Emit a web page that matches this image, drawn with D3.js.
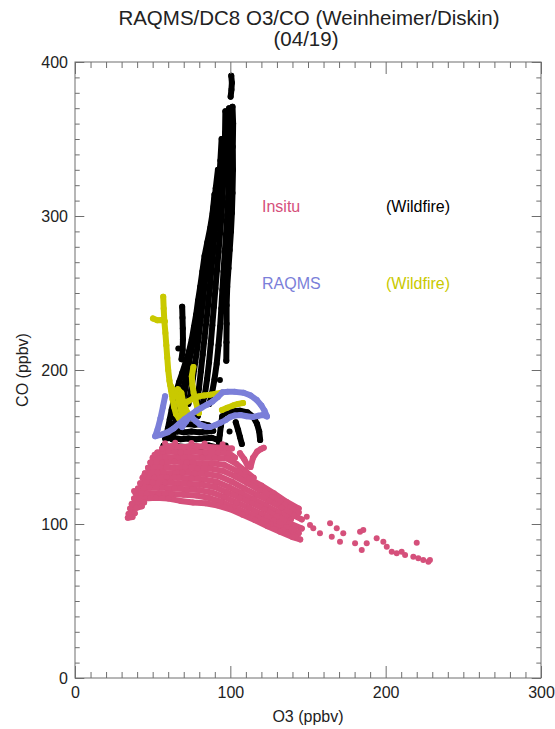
<!DOCTYPE html>
<html>
<head>
<meta charset="utf-8">
<script src="https://cdn.jsdelivr.net/npm/d3@7/dist/d3.min.js"></script>
<style>
  html, body { margin: 0; padding: 0; background: #fff; }
  svg { display: block; font-family: "Liberation Sans", Arial, Helvetica, sans-serif; }
</style>
</head>
<body>
<svg id="chart" width="555" height="729"></svg>
<script>
// ---- Titles and axis labels ----
const titleLines = ["RAQMS/DC8 O3/CO (Weinheimer/Diskin)", "(04/19)"];
const xLabel = "O3 (ppbv)";
const yLabel = "CO (ppbv)";
const xDomain = [0, 300];
const yDomain = [0, 400];
const xMajorTicks = [0, 100, 200, 300];
const yMajorTicks = [0, 100, 200, 300, 400];
const minorStep = 10;

// ---- Legend entries ----
const legendNames = ["Insitu", "RAQMS"];
const legendTags = ["(Wildfire)", "(Wildfire)"];

// ---- In-situ samples outside wildfire plumes: flight segments [O3, CO] ----
const insituTracks = [
  [[56,149],[62,150.5],[70,150],[78,150.5],[86,150],[94,149.5],[101,149]],
  [[53,146.5],[60,147],[68,146.5],[76,147],[84,146.5],[92,146.5],[99,146],[103,143]],
  [[50,143],[58,143.5],[66,143],[74,143.5],[82,143],[90,143],[98,142.5],[104,139],[110,134],[115,130]],
  [[48.5,140],[56,140],[64,140.5],[72,140],[80,139.5],[88,139.5],[96,138.5],[104,134.5],[112,129.5],[120,125],[128,120],[136,114.5],[144,110]],
  [[47,136.5],[55,137],[63,136.5],[71,137],[79,136],[87,136],[95,134.5],[103,131],[111,126.5],[119,122],[127,117.5],[135,112.5],[144,107.5]],
  [[45,133],[53,133.5],[61,133],[69,133.5],[77,133],[85,132.5],[93,131],[101,127.5],[109,123],[117,119],[125,115],[133,110.5],[141,105.5],[146,103]],
  [[43.5,130],[51,130],[59,130.5],[67,130],[75,129.5],[83,129],[91,127.5],[99,124],[107,120],[115,116],[123,112],[131,107.5],[139,103]],
  [[42,126.5],[50,127],[58,127],[66,126.5],[74,126],[82,125.5],[90,124],[98,120.5],[106,117],[114,113.5],[122,109.5],[130,105],[138,100.5],[146,97]],
  [[40.5,123],[48,123.5],[56,123.5],[64,123],[72,122.5],[80,122],[88,120.5],[96,117.5],[104,114],[112,110.5],[120,106.5],[128,102.5],[136,98],[144,94]],
  [[39,120],[46,120],[54,120],[62,119.5],[70,119],[78,118.5],[86,117],[94,114.5],[102,111],[110,107.5],[118,104],[126,100],[134,96],[142,92]],
  [[38,116.5],[45,116.5],[52,117],[60,116.5],[68,115],[76,114],[84,113.5],[92,112],[100,109.5],[108,106],[116,102.5],[124,98.5],[132,95],[140,91.5],[145,90]],
  [[36.5,113],[40.5,113],[44.5,114]],
  [[35.5,110],[39.5,110.5],[43,111.5]],
  [[34.5,106.5],[38.5,107]],
  [[34,104],[37,104.5]],
  [[106.2,146],[109,142],[111.4,137.5],[113,137],[114.6,143],[117.2,147],[119.5,148.5],[121.5,149.5]]
];
const insituScatter = [
  [58,152.5],[64.5,152.8],[75,152.6],[83.5,152.3],[95,151.8],[51.2,145],[44.5,131.5],[38,121.5],
  [149.2,104.7],[151.3,99.4],[153.4,97.2],[157.7,94.0],[164.2,100.5],[165.3,91.8],
  [168.5,97.2],[170.6,88.5],[172.7,94.0],[180.3,87.5],[183.5,95.0],[184.6,83.1],
  [185.6,96.1],[187.8,87.5],[194.2,90.7],[198.5,88.5],[200.7,85.3],[203.9,82.0],
  [207.1,81.0],[210.3,82.0],[212.5,79.9],[217.8,78.8],[220.0,87.9],[221.0,77.7],
  [224.2,76.6],[227.5,75.5],[228.5,76.6]
];

// ---- In-situ samples inside wildfire plumes: flight segments [O3, CO] ----
const wildfireTracks = [
  // top of the plume
  [[100.6,391],[101,386.5],[100.7,382],[100.2,377.5]],
  // main plume column, right to left
  [[101.4,371],[101.8,360],[101.6,345],[101.7,330],[101.4,315],[101,302],[100.4,290],[99.6,278],[98.8,266],[98,254],[97.6,242],[97.6,230],[97.5,218],[97.4,206]],
  [[99.2,370],[99.4,356],[99.2,340],[99,326],[98.6,312],[98,300],[97.2,288],[96.4,276],[95.6,264],[94.9,252],[94.2,240],[93.4,228],[92.4,216],[91.2,204],[89.8,194],[88.2,185],[86.5,178]],
  [[96.8,368],[96.6,354],[96.2,340],[95.6,326],[95,313],[94.4,301],[93.4,289],[92.4,277],[91.4,265],[90.4,253],[89.4,241],[88.4,229],[87.4,217],[86.3,205],[85,194],[83.6,184],[81.8,177]],
  [[94.4,350],[93.6,336],[92.8,322],[91.8,310],[90.8,298],[89.8,287],[88.8,276],[87.8,265],[86.8,254],[85.8,243],[84.6,232],[83.4,221],[82.2,210],[81,199],[79.8,188],[78.6,179]],
  [[92,330],[90.6,318],[89.3,306],[88,295],[86.8,285],[85.6,275],[84.5,265],[83.4,255],[82.3,245],[81.2,235],[80,225],[78.8,215],[77.4,205],[76,195],[74.6,186],[73,178]],
  [[89.8,314],[88.6,302],[87,292],[85.2,283],[83.4,274],[82,264],[80.6,254],[79.2,245],[78,236],[76.6,228],[75.2,220],[73.4,212],[71.2,205],[69,198],[67,192],[65.2,186],[63.6,180],[62.2,174],[61,168],[59.8,162],[58.6,156]],
  [[79.4,240],[77.8,230],[76.3,221],[74.8,212],[73.2,204],[71.6,196],[70,189],[68.4,182],[66.8,175],[65.2,168],[63.8,161],[62.6,155]],
  [[72.5,196],[71,188],[69.8,181],[68.4,174],[67,167],[65.6,160]],
  // thin strand left of the column
  [[69,241],[69.2,234],[69.4,227],[69.5,220],[69.3,213],[68.6,207]],
  // base of the plume
  [[57,151],[61,150],[66,150.5],[71,150],[76,150.5],[81,150],[86,151],[90,150]],
  [[58,155.5],[63,156],[68,155],[73,155.5],[78,155],[83,155.5],[88,156],[91,155]],
  [[60,160],[65,160.5],[70,159.5],[75,160],[80,159.5],[85,160],[89,160.5]],
  [[62,165],[67,164.5],[72,165],[77,164.5],[82,165],[86,164]],
  [[64,169.5],[69,170],[74,169],[79,170]],
  // loops on the right
  [[96.5,172],[101,173.4],[106.2,173.6],[111,172.5],[114.8,169.5],[117.2,165],[118.6,160],[119.2,154.5]],
  [[94.8,170],[94,164],[93.2,158],[92.7,153]],
  [[103.5,166],[105,161],[106.2,156.5],[107.4,152]]
];
const wildfireScatter = [[93.3,193.5],[99.5,160],[97,151],[95.5,246],[66.5,214]];

// ---- RAQMS along the flight track [O3, CO] ----
const raqmsTrack = [
  [58,183],[56.6,176],[55,168.5],[53.2,161.5],[51.6,157],[55.5,158],[59.5,159.5],[63.5,162],
  [67,165],[70.5,168],[74,170.5],[77.5,167],[80.5,164.5],[84,163.2],[87,163],[90.5,164.3],
  [93.5,165.7],[97,167.5],[100,169.5],[103,170.5],[106.5,170.8],[110.5,170],[114.5,169.5],
  [118,170.3],[121,170.8],[123.6,169.8],[122,173.5],[120,177],[117,180.5],[113,183.5],
  [108.5,185.2],[103,185.8],[98,185.8],[95,185.5],[92,182.5],[88.5,179.5],[85,177.5],
  [81.5,175.5],[78,173.5],[74.5,170.8],[71.5,166.5],[69,163]
];

// ---- RAQMS inside wildfire plumes [O3, CO] ----
const raqmsWildfireTracks = [
  [[50.2,233.5],[53,232.3],[55.8,232.5],[57.8,231.5]],
  [[56.8,247.5],[57.1,240],[57.5,232],[58.2,224],[58.8,216],[59.4,208],[60,200],[60.8,193],[61.8,187],[62.8,181],[63.8,176],[65,171.5],[67,168.5]],
  [[61.5,190],[63.5,186.5],[66,184],[67,179],[68.2,174],[69.5,170]],
  [[64,183],[66.2,187.5],[68.5,185],[69.5,180],[71,175.5],[72.5,172]],
  [[76.2,202],[75.2,196],[75.6,190],[76.4,185],[77.6,180],[78.8,175.5],[79.8,172]],
  [[69,177],[72.5,179.5],[76,181.5],[79.5,182.8],[83,183.5],[86.9,184],[90.8,184.6],[94.4,185.2]],
  [[94.6,174],[98,175.5],[101.8,177],[105,178],[108.2,178.6]]
];

// ---- Drawing ----
const colors = {
  insitu: "#d5507b",
  wildfire: "#000000",
  raqms: "#7b7fd9",
  raqmsWildfire: "#c9c900",
  axis: "#6e6e6e",
  text: "#222222"
};
const dot = 3;

const svg = d3.select("#chart");
const plot = { left: 75, right: 541, top: 62, bottom: 678 };
const x = d3.scaleLinear().domain(xDomain).range([plot.left, plot.right]);
const y = d3.scaleLinear().domain(yDomain).range([plot.bottom, plot.top]);

const line = d3.line().x(d => x(d[0])).y(d => y(d[1]));

function drawTracks(tracks, color, cls) {
  const g = svg.append("g").attr("class", cls);
  g.selectAll("path").data(tracks).join("path")
    .attr("d", line)
    .attr("fill", "none")
    .attr("stroke", color)
    .attr("stroke-width", dot * 2)
    .attr("stroke-linecap", "round")
    .attr("stroke-linejoin", "round");
  g.selectAll("circle").data(tracks.flat()).join("circle")
    .attr("cx", d => x(d[0])).attr("cy", d => y(d[1])).attr("r", dot)
    .attr("fill", color);
}
function drawScatter(points, color, cls) {
  svg.append("g").attr("class", cls)
    .selectAll("circle").data(points).join("circle")
    .attr("cx", d => x(d[0])).attr("cy", d => y(d[1])).attr("r", dot)
    .attr("fill", color);
}

drawTracks(wildfireTracks, colors.wildfire, "insitu-wildfire");
drawScatter(wildfireScatter, colors.wildfire, "insitu-wildfire-dots");
drawTracks(insituTracks, colors.insitu, "insitu");
drawScatter(insituScatter, colors.insitu, "insitu-dots");
drawTracks(raqmsWildfireTracks, colors.raqmsWildfire, "raqms-wildfire");
drawTracks([raqmsTrack], colors.raqms, "raqms");

// Axes: box frame with inward ticks on all four sides
const xMinor = d3.range(xDomain[0], xDomain[1] + 1, minorStep).filter(v => !xMajorTicks.includes(v));
const yMinor = d3.range(yDomain[0], yDomain[1] + 1, minorStep).filter(v => !yMajorTicks.includes(v));
const xMajorLen = 12, xMinorLen = 6, yMajorLen = 9.3, yMinorLen = 4.7;

function axisGroup(axis, tx, ty) {
  const g = svg.append("g").attr("transform", `translate(${tx},${ty})`).call(axis);
  g.select(".domain").remove();
  g.selectAll(".tick line").attr("stroke", colors.axis);
  return g;
}

// bottom
const gxb = axisGroup(d3.axisBottom(x).tickValues(xMajorTicks).tickSize(-xMajorLen).tickPadding(9).tickFormat(d3.format("d")), 0, plot.bottom);
gxb.selectAll("text").attr("font-size", 16).attr("fill", colors.text).attr("font-family", null);
axisGroup(d3.axisBottom(x).tickValues(xMinor).tickSize(-xMinorLen).tickFormat(""), 0, plot.bottom);
// top
axisGroup(d3.axisTop(x).tickValues(xMajorTicks).tickSize(-xMajorLen).tickFormat(""), 0, plot.top);
axisGroup(d3.axisTop(x).tickValues(xMinor).tickSize(-xMinorLen).tickFormat(""), 0, plot.top);
// left
const gyl = axisGroup(d3.axisLeft(y).tickValues(yMajorTicks).tickSize(-yMajorLen).tickPadding(7).tickFormat(d3.format("d")), plot.left, 0);
gyl.selectAll("text").attr("font-size", 16).attr("fill", colors.text).attr("font-family", null);
axisGroup(d3.axisLeft(y).tickValues(yMinor).tickSize(-yMinorLen).tickFormat(""), plot.left, 0);
// right
axisGroup(d3.axisRight(y).tickValues(yMajorTicks).tickSize(-yMajorLen).tickFormat(""), plot.right, 0);
axisGroup(d3.axisRight(y).tickValues(yMinor).tickSize(-yMinorLen).tickFormat(""), plot.right, 0);

svg.append("rect")
  .attr("x", plot.left).attr("y", plot.top)
  .attr("width", plot.right - plot.left).attr("height", plot.bottom - plot.top)
  .attr("fill", "none").attr("stroke", colors.axis).attr("stroke-width", 1);

// Titles
const cx = (plot.left + plot.right) / 2;
svg.append("text").attr("x", cx + 1).attr("y", 25).attr("text-anchor", "middle")
  .attr("font-size", 20.5).attr("fill", colors.text).text(titleLines[0]);
svg.append("text").attr("x", cx - 2).attr("y", 46).attr("text-anchor", "middle")
  .attr("font-size", 20.5).attr("fill", colors.text).text(titleLines[1]);
svg.append("text").attr("x", cx).attr("y", 722).attr("text-anchor", "middle")
  .attr("font-size", 16).attr("fill", colors.text).text(xLabel);
svg.append("text").attr("transform", `translate(28,${(plot.top + plot.bottom) / 2}) rotate(-90)`)
  .attr("text-anchor", "middle").attr("font-size", 16).attr("fill", colors.text).text(yLabel);

// Legend
const legendColors = [[colors.insitu, colors.wildfire], [colors.raqms, colors.raqmsWildfire]];
const legendY = [212, 289];
legendNames.forEach((name, i) => {
  svg.append("text").attr("x", 262).attr("y", legendY[i]).attr("font-size", 16)
    .attr("fill", legendColors[i][0]).text(name);
  svg.append("text").attr("x", 386).attr("y", legendY[i]).attr("font-size", 16)
    .attr("fill", legendColors[i][1]).text(legendTags[i]);
});
</script>
</body>
</html>
